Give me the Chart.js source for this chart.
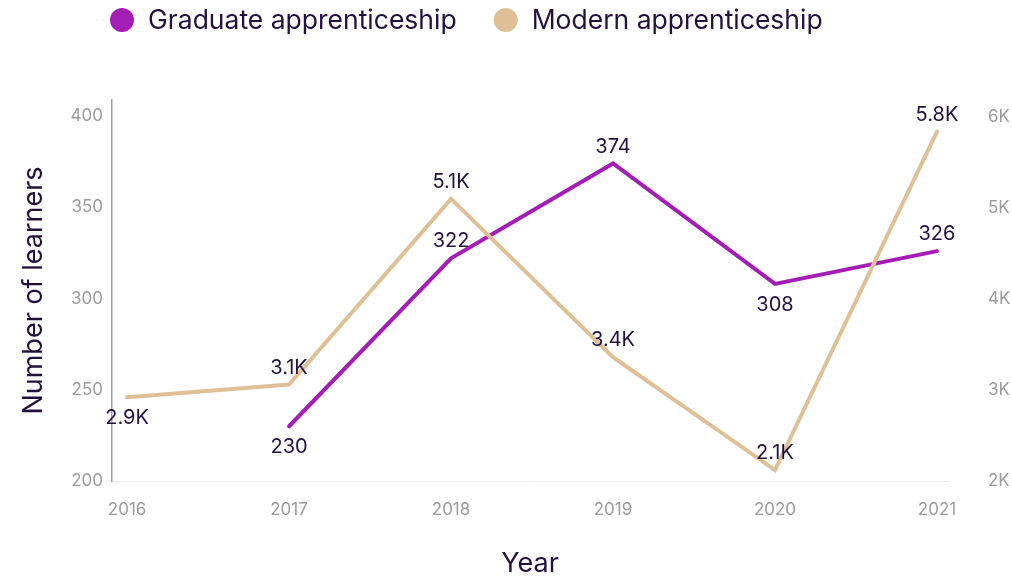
<!DOCTYPE html>
<html>
<head>
<meta charset="utf-8">
<script src="https://cdn.jsdelivr.net/npm/chart.js@4"></script>
<style>
  html, body { margin: 0; background: #fff; }
  canvas { display: block; }
</style>
</head>
<body>
<canvas id="learners" width="1012" height="578"></canvas>
<script>
// ── data ───────────────────────────────
const YEARS = [2016, 2017, 2018, 2019, 2020, 2021];
const GRADUATE = [null, 230, 322, 374, 308, 326];
const MODERN = [2920, 3060, 5100, 3360, 2120, 5840];
const LEFT_TICKS = [200, 250, 300, 350, 400];
const RIGHT_TICKS = [2000, 3000, 4000, 5000, 6000];

// label side per point: -1 above, 1 below
const GRAD_SIDE = [0, 1, -1, -1, 1, -1];
const MODERN_SIDE = [1, -1, -1, -1, -1, -1];

const INK = "#22103d";
const GREY = "#9b9b9b";
const PURPLE = "#a41db5";
const TAN = "#dfc096";
const FAMILY = "Inter, 'Open Sans', sans-serif";

Chart.defaults.font.family = FAMILY;

const fmtK = (v) => (v / 1000).toFixed(1) + "K";

// custom legend across the top
const topLegend = {
  id: "topLegend",
  afterDraw(chart) {
    const ctx = chart.ctx;
    ctx.save();
    ctx.font = "26.5px " + FAMILY;
    ctx.textBaseline = "middle";
    ctx.textAlign = "left";
    let x = 110;
    const y = 20;
    chart.data.datasets.forEach((ds) => {
      ctx.fillStyle = ds.borderColor;
      ctx.beginPath();
      ctx.arc(x + 12, y, 12, 0, Math.PI * 2);
      ctx.fill();
      ctx.fillStyle = INK;
      ctx.fillText(ds.label, x + 38, y + 1);
      x += 38 + ctx.measureText(ds.label).width + 37;
    });
    ctx.restore();
  },
};

// value labels next to each point
const pointLabels = {
  id: "pointLabels",
  afterDatasetsDraw(chart) {
    const ctx = chart.ctx;
    ctx.save();
    ctx.font = "20px " + FAMILY;
    ctx.fillStyle = INK;
    ctx.textAlign = "center";
    ctx.textBaseline = "middle";
    chart.data.datasets.forEach((ds, i) => {
      const meta = chart.getDatasetMeta(i);
      meta.data.forEach((pt, j) => {
        const raw = ds.data[j].y;
        if (raw == null) return;
        const side = ds.sides[j];
        ctx.fillText(ds.fmt(raw), pt.x, pt.y + (side < 0 ? -17 : 21));
      });
    });
    ctx.restore();
  },
};

new Chart(document.getElementById("learners"), {
  type: "line",
  data: {
    datasets: [
      {
        label: "Graduate apprenticeship",
        data: YEARS.map((yr, i) => ({ x: yr, y: GRADUATE[i] })),
        yAxisID: "y",
        borderColor: PURPLE,
        backgroundColor: PURPLE,
        borderWidth: 4,
        pointRadius: 0,
        borderCapStyle: "round",
        tension: 0,
        order: 1,
        sides: GRAD_SIDE,
        fmt: (v) => String(v),
      },
      {
        label: "Modern apprenticeship",
        data: YEARS.map((yr, i) => ({ x: yr, y: MODERN[i] })),
        yAxisID: "y1",
        borderColor: TAN,
        backgroundColor: TAN,
        borderWidth: 4,
        pointRadius: 0,
        borderCapStyle: "round",
        tension: 0,
        order: 0,
        sides: MODERN_SIDE,
        fmt: fmtK,
      },
    ],
  },
  options: {
    responsive: false,
    animation: false,
    layout: { padding: { top: 100, left: 0, right: 0, bottom: 0 } },
    plugins: {
      legend: { display: false },
      tooltip: { enabled: false },
    },
    scales: {
      x: {
        type: "linear",
        min: 2015.907,
        max: 2021.068,
        afterBuildTicks: (s) => { s.ticks = YEARS.map((v) => ({ value: v })); },
        afterFit: (s) => { s.height = 97; },
        ticks: {
          color: GREY,
          font: { size: 17 },
          padding: 19,
          maxRotation: 0,
          autoSkip: false,
          callback: (v) => String(v),
        },
        grid: { display: false, drawTicks: false },
        border: { color: "#ececec", width: 1 },
        title: {
          display: true,
          text: "Year",
          color: INK,
          font: { size: 27 },
          padding: { top: 0, bottom: -2 },
        },
      },
      y: {
        position: "left",
        min: 200,
        max: 408.8,
        afterBuildTicks: (s) => { s.ticks = LEFT_TICKS.map((v) => ({ value: v })); },
        afterFit: (s) => { s.width = 112; },
        ticks: { color: GREY, font: { size: 17 }, padding: 9 },
        grid: { display: false, drawTicks: false },
        border: { color: "#a0a0a0", width: 1.5 },
        title: {
          display: true,
          text: "Number of learners",
          color: INK,
          font: { size: 27 },
          padding: { top: 18, bottom: 0 },
        },
      },
      y1: {
        position: "right",
        min: 2000,
        max: 6187,
        afterBuildTicks: (s) => { s.ticks = RIGHT_TICKS.map((v) => ({ value: v })); },
        afterFit: (s) => { s.width = 64; },
        ticks: {
          color: GREY,
          font: { size: 17 },
          padding: 40,
          callback: (v) => v / 1000 + "K",
        },
        grid: { display: false, drawTicks: false },
        border: { display: false },
      },
    },
  },
  plugins: [pointLabels, topLegend],
});
</script>
</body>
</html>
